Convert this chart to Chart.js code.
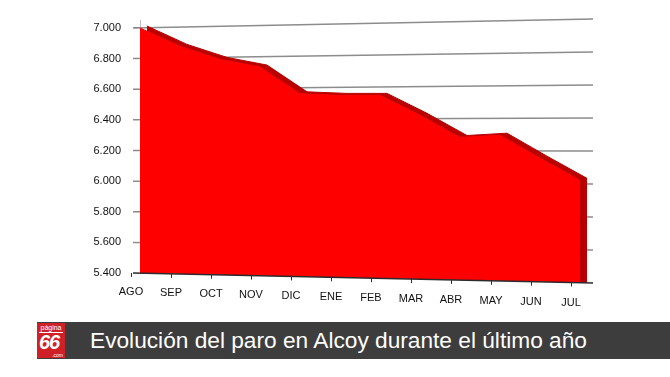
<!doctype html>
<html lang="es">
  <head>
    <title>Evolución del paro en Alcoy</title>
    <meta charset="UTF-8" />
    <meta name="viewport" content="width=device-width, initial-scale=1.0" />
    <script src="https://cdn.jsdelivr.net/npm/chart.js"></script>
    <style>
      body {
        margin: 0;
        width: 670px;
        height: 377px;
        overflow: hidden;
        position: relative;
        background: #fff;
        font-family: 'Liberation Sans', Arial, sans-serif;
      }
      #paroChart {
        position: absolute;
        left: 0;
        top: 0;
      }
      .caption {
        position: absolute;
        left: 37px;
        top: 322px;
        width: 633px;
        height: 37px;
        background: #3d3d3d;
      }
      .logo {
        position: absolute;
        left: 0;
        top: 1px;
        width: 28px;
        height: 35px;
        background: #cf2027;
        color: #fff;
      }
      .logo .top {
        position: absolute;
        left: 2px;
        right: 2px;
        top: 1px;
        font-size: 7px;
        line-height: 8px;
        text-align: center;
        border-bottom: 1px solid #fff;
      }
      .logo .num {
        position: absolute;
        left: 2px;
        top: 10px;
        font-size: 20px;
        line-height: 19px;
        font-style: italic;
        font-weight: bold;
        letter-spacing: -1px;
      }
      .logo .com {
        position: absolute;
        right: 2px;
        bottom: 0;
        font-size: 5px;
        line-height: 6px;
      }
      .caption .text {
        position: absolute;
        left: 53px;
        top: 0;
        line-height: 37px;
        font-size: 22.7px;
        color: #fff;
        white-space: nowrap;
      }
    </style>
  </head>
  <body>
    <canvas id="paroChart" width="670" height="320"></canvas>
    <div class="caption">
      <div class="logo">
        <span class="top">página</span>
        <span class="num">66</span>
        <span class="com">.com</span>
      </div>
      <span class="text">Evolución del paro en Alcoy durante el último año</span>
    </div>

    <script>
      const months = ['AGO', 'SEP', 'OCT', 'NOV', 'DIC', 'ENE', 'FEB', 'MAR', 'ABR', 'MAY', 'JUN', 'JUL']
      const paro = [7000, 6880, 6795, 6745, 6570, 6560, 6560, 6430, 6285, 6300, 6150, 6005]
      const yTicks = [5400, 5600, 5800, 6000, 6200, 6400, 6600, 6800, 7000]

      const fontFamily = "'Liberation Sans', Arial, sans-serif"
      const yMin = 5328.2
      const yMax = 7052.2
      const depthY = 13 // value units ~ 2px
      const depthX = 0.175 // category units ~ 7px
      const spread = 1.0776 // back wall gets taller to the right

      const points = paro.map((v, i) => ({ x: i, y: v }))

      // slanted back-wall grid + floor line, drawn from the y scale
      const perspective = {
        id: 'perspective',
        beforeDatasetsDraw(chart) {
          const { ctx, chartArea, scales } = chart
          const y = scales.y
          const c = y.getPixelForValue(6240)
          const x0 = chartArea.left - 7
          const x1 = chartArea.right
          ctx.save()
          ctx.strokeStyle = '#8c8c8c'
          ctx.lineWidth = 1.5
          yTicks.slice(1).forEach((v) => {
            const py = y.getPixelForValue(v)
            ctx.beginPath()
            ctx.moveTo(x0, py)
            ctx.lineTo(x1, c + (py - c) * spread)
            ctx.stroke()
          })
          ctx.restore()
        },
        afterDatasetsDraw(chart) {
          const { ctx, chartArea, scales } = chart
          const y = scales.y
          const x = scales.x
          const c = y.getPixelForValue(6240)
          const x0 = chartArea.left - 7
          const x1 = chartArea.right
          const b0 = y.getPixelForValue(yTicks[0])
          const b1 = c + (b0 - c) * spread
          const floorAt = (px) => b0 + ((px - x0) / (x1 - x0)) * (b1 - b0)
          ctx.save()
          ctx.fillStyle = '#fff'
          ctx.beginPath()
          ctx.moveTo(x0, b0)
          ctx.lineTo(x1 + 2, b1)
          ctx.lineTo(x1 + 2, chartArea.bottom + 2)
          ctx.lineTo(x0, chartArea.bottom + 2)
          ctx.closePath()
          ctx.fill()
          ctx.strokeStyle = '#2b2b2b'
          ctx.lineWidth = 1.5
          ctx.beginPath()
          ctx.moveTo(x0, b0)
          ctx.lineTo(x1, b1)
          ctx.stroke()
          ctx.lineWidth = 1
          months.forEach((m, i) => {
            const px = Math.round(x.getPixelForValue(i) - 9) + 0.5
            ctx.beginPath()
            ctx.moveTo(px, floorAt(px))
            ctx.lineTo(px, floorAt(px) + 4)
            ctx.stroke()
          })
          ctx.restore()
        },
      }

      new Chart(document.getElementById('paroChart'), {
        type: 'line',
        data: {
          datasets: [
            {
              label: 'Paro',
              data: points,
              xAxisID: 'x',
              yAxisID: 'y',
              borderColor: '#ff0000',
              backgroundColor: '#ff0000',
              borderWidth: 1,
              fill: 'start',
              tension: 0,
              pointRadius: 0,
              order: 0,
            },
            {
              label: 'Profundidad',
              data: points,
              xAxisID: 'x2',
              yAxisID: 'y2',
              borderColor: '#b80000',
              backgroundColor: '#b80000',
              borderWidth: 1,
              fill: 'start',
              tension: 0,
              pointRadius: 0,
              order: 1,
            },
          ],
        },
        options: {
          responsive: false,
          animation: false,
          events: [],
          layout: { padding: { top: 20, right: 77, bottom: 0, left: 0 } },
          scales: {
            x: {
              type: 'linear',
              position: 'bottom',
              min: 0,
              max: 11.325,
              z: 1,
              afterBuildTicks: (scale) => {
                scale.ticks = months.map((m, i) => ({ value: i }))
              },
              afterFit: (scale) => {
                scale.height = 36
              },
              grid: { display: false, drawTicks: false },
              border: { display: false },
              ticks: {
                autoSkip: false,
                maxRotation: 0,
                padding: 2,
                labelOffset: -9,
                color: '#111',
                font: (ctx) => ({ family: fontFamily, size: 11, lineHeight: 1.09 + ctx.index * 0.182 }),
                callback: (v) => months[v],
              },
            },
            y: {
              type: 'linear',
              position: 'left',
              min: yMin,
              max: yMax,
              afterBuildTicks: (scale) => {
                scale.ticks = yTicks.map((v) => ({ value: v }))
              },
              afterFit: (scale) => {
                scale.width = 140
              },
              grid: {
                display: true,
                drawOnChartArea: false,
                tickLength: 6,
                color: '#555',
              },
              border: { display: true, color: '#cbbcbc' },
              ticks: {
                padding: 13,
                color: '#111',
                font: { family: fontFamily, size: 11 },
                callback: (v) => (v / 1000).toFixed(3),
              },
            },
            x2: {
              type: 'linear',
              display: false,
              min: -depthX,
              max: 11.325 - depthX,
            },
            y2: {
              type: 'linear',
              display: false,
              min: yMin - depthY,
              max: yMax - depthY,
            },
          },
          plugins: {
            legend: { display: false },
            tooltip: { enabled: false },
          },
        },
        plugins: [perspective],
      })
    </script>
  </body>
</html>
